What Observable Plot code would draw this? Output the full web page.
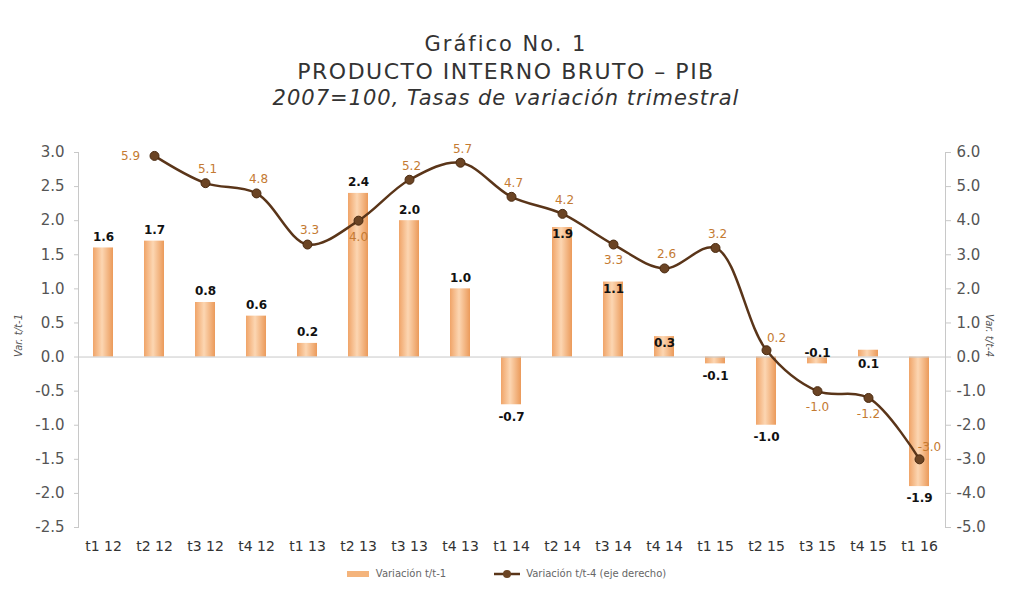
<!DOCTYPE html>
<html><head><meta charset="utf-8">
<script src="https://cdn.jsdelivr.net/npm/d3@7"></script>
<script src="https://cdn.jsdelivr.net/npm/@observablehq/plot@0.6"></script>
<style>
body{margin:0;background:#fff;font-family:"DejaVu Sans",sans-serif;width:1012px;height:589px;position:relative;overflow:hidden;}
.t{position:absolute;left:0;width:1012px;text-align:center;color:#333;}
#chart{position:absolute;left:0;top:130px;}
#legend{position:absolute;left:0;top:568px;width:1012px;display:flex;justify-content:center;align-items:center;font-size:10px;color:#666;gap:6px;}
</style></head><body>
<div class="t" style="top:32px;font-size:21px;letter-spacing:2px">Gráfico No. 1</div>
<div class="t" style="top:59px;font-size:22px;letter-spacing:1.5px">PRODUCTO INTERNO BRUTO – PIB</div>
<div class="t" style="top:86px;font-size:21px;letter-spacing:1px;font-style:italic">2007=100, Tasas de variación trimestral</div>
<div id="chart"></div>
<div id="legend"></div>
<script>
const categories = ["t1 12","t2 12","t3 12","t4 12","t1 13","t2 13","t3 13","t4 13","t1 14","t2 14","t3 14","t4 14","t1 15","t2 15","t3 15","t4 15","t1 16"];
const barValues = [1.6,1.7,0.8,0.6,0.2,2.4,2.0,1.0,-0.7,1.9,1.1,0.3,-0.1,-1.0,-0.1,0.1,-1.9];
const lineValues = [null,5.9,5.1,4.8,3.3,4.0,5.2,5.7,4.7,4.2,3.3,2.6,3.2,0.2,-1.0,-1.2,-3.0];
const leftTicks = [3.0,2.5,2.0,1.5,1.0,0.5,0.0,-0.5,-1.0,-1.5,-2.0,-2.5];
const rightTicks = [6,5,4,3,2,1,0,-1,-2,-3,-4,-5];
const barLabelPlacement = ["out","out","out","out","out","out","out","out","out","in","in","in","out","out","above","below","out"];
const lineLabelPlacement = ["","left","above","above","above","below","above","above","above","above","below","above","above","aboveRight","below","below","aboveRight"];
const barSeries = "Variación t/t-1";
const lineSeries = "Variación t/t-4 (eje derecho)";

const bars = categories.map((c,i)=>({cat:c, v:barValues[i], pos:barLabelPlacement[i]}));
const line = categories.map((c,i)=>({cat:c, v:lineValues[i], pos:lineLabelPlacement[i]})).filter(d=>d.v!=null);
const ratio = 2; // right axis = 2 x left axis

const barColor = "url(#barGrad)";
const lineColor = "#5a3519";
const lineLabelColor = "#c47a32";

const fmt = d=>d.toFixed(1);
const lineLbl = (pos, dx, dy) => Plot.text(line.filter(d=>d.pos===pos), {x:"cat", y:d=>d.v/ratio, text:d=>fmt(d.v), dx, dy, fontSize:12, fill:lineLabelColor});

const chart = Plot.plot({
  width:1012, height:435,
  marginLeft:78, marginRight:67, marginTop:22, marginBottom:38,
  style:{fontFamily:"DejaVu Sans, sans-serif", fontSize:"13px", color:"#444", background:"transparent"},
  x:{domain:categories, paddingInner:0.6, paddingOuter:0.3, axis:null},
  y:{domain:[-2.5,3], axis:null},
  marks:[
    Plot.frame({anchor:"left", stroke:"#c8c8c8"}),
    Plot.frame({anchor:"right", stroke:"#c8c8c8"}),
    Plot.axisY(leftTicks, {anchor:"left", label:null, tickFormat:fmt, tickSize:4, tickPadding:10, stroke:"#c8c8c8", fill:"#555", fontSize:15}),
    Plot.axisY(rightTicks.map(t=>t/ratio), {anchor:"right", label:null, tickFormat:d=>fmt(d*ratio), tickSize:5, tickPadding:6, stroke:"#c8c8c8", fill:"#555", fontSize:15}),
    Plot.axisX({anchor:"bottom", label:null, tickSize:0, tickPadding:14, fill:"#333", fontSize:14}),
    Plot.barY(bars, {x:"cat", y:"v", fill:barColor}),
    Plot.ruleY([0], {stroke:"#c8c8c8"}),
    Plot.line(line, {x:"cat", y:d=>d.v/ratio, stroke:lineColor, strokeWidth:2.5, curve:"catmull-rom"}),
    Plot.dot(line, {x:"cat", y:d=>d.v/ratio, r:4.5, fill:"#6b4424", stroke:"#4a2a10", strokeWidth:1}),
    Plot.text(bars.filter(d=>d.pos==="out" && d.v>=0), {x:"cat", y:"v", text:d=>fmt(d.v), dy:-11, fontWeight:"bold", fontSize:12, fill:"#111"}),
    Plot.text(bars.filter(d=>d.pos==="out" && d.v<0), {x:"cat", y:"v", text:d=>fmt(d.v), dy:12, fontWeight:"bold", fontSize:12, fill:"#111"}),
    Plot.text(bars.filter(d=>d.pos==="in"), {x:"cat", y:"v", text:d=>fmt(d.v), dy:7, fontWeight:"bold", fontSize:12, fill:"#111"}),
    Plot.text(bars.filter(d=>d.pos==="above"), {x:"cat", y:[0], text:d=>fmt(d.v), dy:-4, fontWeight:"bold", fontSize:12, fill:"#111"}),
    Plot.text(bars.filter(d=>d.pos==="below"), {x:"cat", y:[0], text:d=>fmt(d.v), dy:7, fontWeight:"bold", fontSize:12, fill:"#111"}),
    lineLbl("left", -24, 0),
    lineLbl("above", 2, -14),
    lineLbl("below", 0, 16),
    lineLbl("aboveRight", 10, -12),
    Plot.text(["Var. t/t-1"], {y:[0], frameAnchor:"left", dx:-60, rotate:-90, fontSize:10, fill:"#555", fontStyle:"italic"}),
    Plot.text(["Var. t/t-4"], {y:[0], frameAnchor:"right", dx:44, rotate:90, fontSize:10, fill:"#555", fontStyle:"italic"})
  ]
});
const defs = d3.select(chart).insert("defs", ":first-child");
const g = defs.append("linearGradient").attr("id","barGrad").attr("x1","0").attr("x2","1").attr("y1","0").attr("y2","0");
g.append("stop").attr("offset","0%").attr("stop-color","#f0a468");
g.append("stop").attr("offset","45%").attr("stop-color","#fcd6b2");
g.append("stop").attr("offset","100%").attr("stop-color","#eb9a5a");
document.getElementById("chart").appendChild(chart);

document.getElementById("legend").innerHTML =
  `<svg width="24" height="10"><rect x="1" y="2" width="22" height="6" fill="#f4b47c"/></svg><span>${barSeries}</span>
   <span style="width:36px"></span>
   <svg width="26" height="10"><line x1="0" y1="5" x2="26" y2="5" stroke="${lineColor}" stroke-width="2.5"/><circle cx="13" cy="5" r="4" fill="#6b4424"/></svg><span>${lineSeries}</span>`;
</script>
</body></html>
